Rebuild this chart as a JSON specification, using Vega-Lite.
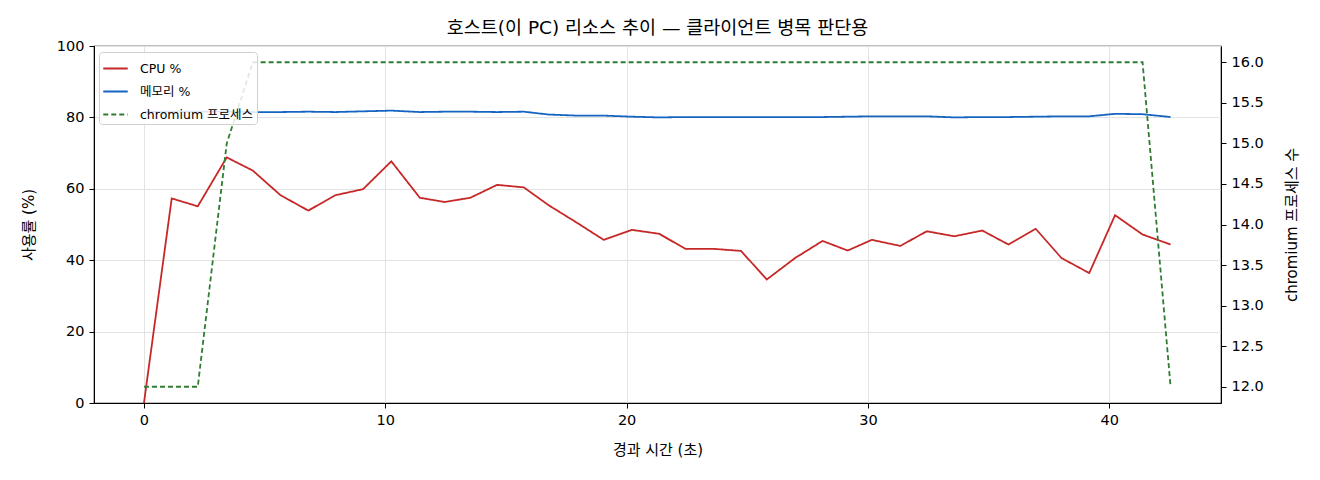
{
  "$schema": "https://vega.github.io/schema/vega-lite/v6.json",
  "width": 1127,
  "height": 357,
  "autosize": {"type": "none"},
  "padding": {"left": 94, "top": 46, "right": 99, "bottom": 77},
  "background": "white",
  "config": {
    "font": "DejaVu Sans, Noto Sans CJK KR",
    "view": {"stroke": "black", "strokeWidth": 1.2},
    "axis": {
      "domainColor": "black",
      "tickColor": "black",
      "tickSize": 5,
      "labelColor": "black",
      "labelFont": "DejaVu Sans, Noto Sans CJK KR",
      "labelFontSize": 14.5,
      "titleFont": "DejaVu Sans, Noto Sans CJK KR",
      "titleFontSize": 15,
      "titleFontWeight": "normal",
      "titleColor": "black",
      "gridColor": "#e3e3e3",
      "labelPadding": 5
    },
    "legend": {
      "orient": "none",
      "legendX": 5,
      "legendY": 6,
      "fillColor": "rgba(255,255,255,0.85)",
      "strokeColor": "#d0d0d0",
      "cornerRadius": 3,
      "padding": 3,
      "symbolType": "stroke",
      "symbolSize": 600,
      "symbolStrokeWidth": 2,
      "labelFont": "DejaVu Sans, Noto Sans CJK KR",
      "labelFontSize": 12.5,
      "labelColor": "black",
      "rowPadding": 3,
      "labelOffset": 11
    }
  },
  "title": {
    "text": "호스트(이 PC) 리소스 추이 — 클라이언트 병목 판단용",
    "font": "DejaVu Sans, Noto Sans CJK KR",
    "fontSize": 18.5,
    "fontWeight": "normal",
    "color": "black",
    "offset": 1
  },
  "data": {
    "values": [
      {"t": 0, "s": "CPU %", "v": 0},
      {"t": 1.15, "s": "CPU %", "v": 57.3},
      {"t": 2.23, "s": "CPU %", "v": 55.1},
      {"t": 3.43, "s": "CPU %", "v": 68.8},
      {"t": 4.51, "s": "CPU %", "v": 65.1},
      {"t": 5.66, "s": "CPU %", "v": 58.2},
      {"t": 6.81, "s": "CPU %", "v": 53.9},
      {"t": 7.93, "s": "CPU %", "v": 58.2},
      {"t": 9.08, "s": "CPU %", "v": 59.9},
      {"t": 10.25, "s": "CPU %", "v": 67.7},
      {"t": 11.43, "s": "CPU %", "v": 57.5},
      {"t": 12.46, "s": "CPU %", "v": 56.3},
      {"t": 13.53, "s": "CPU %", "v": 57.5},
      {"t": 14.63, "s": "CPU %", "v": 61.1},
      {"t": 15.74, "s": "CPU %", "v": 60.4},
      {"t": 16.77, "s": "CPU %", "v": 55.4},
      {"t": 17.94, "s": "CPU %", "v": 50.5},
      {"t": 19.05, "s": "CPU %", "v": 45.7},
      {"t": 20.22, "s": "CPU %", "v": 48.5},
      {"t": 21.35, "s": "CPU %", "v": 47.4},
      {"t": 22.43, "s": "CPU %", "v": 43.2},
      {"t": 23.56, "s": "CPU %", "v": 43.2},
      {"t": 24.74, "s": "CPU %", "v": 42.6},
      {"t": 25.81, "s": "CPU %", "v": 34.6},
      {"t": 26.98, "s": "CPU %", "v": 40.6},
      {"t": 28.12, "s": "CPU %", "v": 45.4},
      {"t": 29.16, "s": "CPU %", "v": 42.7},
      {"t": 30.16, "s": "CPU %", "v": 45.7},
      {"t": 31.34, "s": "CPU %", "v": 44.0},
      {"t": 32.44, "s": "CPU %", "v": 48.1},
      {"t": 33.58, "s": "CPU %", "v": 46.7},
      {"t": 34.74, "s": "CPU %", "v": 48.3},
      {"t": 35.82, "s": "CPU %", "v": 44.4},
      {"t": 36.95, "s": "CPU %", "v": 48.8},
      {"t": 38.02, "s": "CPU %", "v": 40.6},
      {"t": 39.17, "s": "CPU %", "v": 36.4},
      {"t": 40.24, "s": "CPU %", "v": 52.6},
      {"t": 41.38, "s": "CPU %", "v": 47.2},
      {"t": 42.54, "s": "CPU %", "v": 44.4},
      {"t": 0, "s": "메모리 %", "v": 81.5},
      {"t": 1.15, "s": "메모리 %", "v": 81.6},
      {"t": 2.23, "s": "메모리 %", "v": 81.6},
      {"t": 3.43, "s": "메모리 %", "v": 81.7},
      {"t": 4.51, "s": "메모리 %", "v": 81.5},
      {"t": 5.66, "s": "메모리 %", "v": 81.5},
      {"t": 6.81, "s": "메모리 %", "v": 81.6},
      {"t": 7.93, "s": "메모리 %", "v": 81.5},
      {"t": 9.08, "s": "메모리 %", "v": 81.7},
      {"t": 10.25, "s": "메모리 %", "v": 81.9},
      {"t": 11.43, "s": "메모리 %", "v": 81.5},
      {"t": 12.46, "s": "메모리 %", "v": 81.6},
      {"t": 13.53, "s": "메모리 %", "v": 81.6},
      {"t": 14.63, "s": "메모리 %", "v": 81.5},
      {"t": 15.74, "s": "메모리 %", "v": 81.6},
      {"t": 16.77, "s": "메모리 %", "v": 80.8},
      {"t": 17.94, "s": "메모리 %", "v": 80.5},
      {"t": 19.05, "s": "메모리 %", "v": 80.5},
      {"t": 20.22, "s": "메모리 %", "v": 80.2},
      {"t": 21.35, "s": "메모리 %", "v": 80.0},
      {"t": 22.43, "s": "메모리 %", "v": 80.1},
      {"t": 23.56, "s": "메모리 %", "v": 80.1},
      {"t": 24.74, "s": "메모리 %", "v": 80.1},
      {"t": 25.81, "s": "메모리 %", "v": 80.1},
      {"t": 26.98, "s": "메모리 %", "v": 80.1},
      {"t": 28.12, "s": "메모리 %", "v": 80.1},
      {"t": 29.16, "s": "메모리 %", "v": 80.2},
      {"t": 30.16, "s": "메모리 %", "v": 80.3},
      {"t": 31.34, "s": "메모리 %", "v": 80.3},
      {"t": 32.44, "s": "메모리 %", "v": 80.3},
      {"t": 33.58, "s": "메모리 %", "v": 80.0},
      {"t": 34.74, "s": "메모리 %", "v": 80.1},
      {"t": 35.82, "s": "메모리 %", "v": 80.1},
      {"t": 36.95, "s": "메모리 %", "v": 80.2},
      {"t": 38.02, "s": "메모리 %", "v": 80.3},
      {"t": 39.17, "s": "메모리 %", "v": 80.3},
      {"t": 40.24, "s": "메모리 %", "v": 81.0},
      {"t": 41.38, "s": "메모리 %", "v": 80.9},
      {"t": 42.54, "s": "메모리 %", "v": 80.1},
      {"t": 0, "s": "chromium 프로세스", "v": 12},
      {"t": 1.15, "s": "chromium 프로세스", "v": 12},
      {"t": 2.23, "s": "chromium 프로세스", "v": 12},
      {"t": 3.43, "s": "chromium 프로세스", "v": 15},
      {"t": 4.51, "s": "chromium 프로세스", "v": 16},
      {"t": 5.66, "s": "chromium 프로세스", "v": 16},
      {"t": 6.81, "s": "chromium 프로세스", "v": 16},
      {"t": 7.93, "s": "chromium 프로세스", "v": 16},
      {"t": 9.08, "s": "chromium 프로세스", "v": 16},
      {"t": 10.25, "s": "chromium 프로세스", "v": 16},
      {"t": 11.43, "s": "chromium 프로세스", "v": 16},
      {"t": 12.46, "s": "chromium 프로세스", "v": 16},
      {"t": 13.53, "s": "chromium 프로세스", "v": 16},
      {"t": 14.63, "s": "chromium 프로세스", "v": 16},
      {"t": 15.74, "s": "chromium 프로세스", "v": 16},
      {"t": 16.77, "s": "chromium 프로세스", "v": 16},
      {"t": 17.94, "s": "chromium 프로세스", "v": 16},
      {"t": 19.05, "s": "chromium 프로세스", "v": 16},
      {"t": 20.22, "s": "chromium 프로세스", "v": 16},
      {"t": 21.35, "s": "chromium 프로세스", "v": 16},
      {"t": 22.43, "s": "chromium 프로세스", "v": 16},
      {"t": 23.56, "s": "chromium 프로세스", "v": 16},
      {"t": 24.74, "s": "chromium 프로세스", "v": 16},
      {"t": 25.81, "s": "chromium 프로세스", "v": 16},
      {"t": 26.98, "s": "chromium 프로세스", "v": 16},
      {"t": 28.12, "s": "chromium 프로세스", "v": 16},
      {"t": 29.16, "s": "chromium 프로세스", "v": 16},
      {"t": 30.16, "s": "chromium 프로세스", "v": 16},
      {"t": 31.34, "s": "chromium 프로세스", "v": 16},
      {"t": 32.44, "s": "chromium 프로세스", "v": 16},
      {"t": 33.58, "s": "chromium 프로세스", "v": 16},
      {"t": 34.74, "s": "chromium 프로세스", "v": 16},
      {"t": 35.82, "s": "chromium 프로세스", "v": 16},
      {"t": 36.95, "s": "chromium 프로세스", "v": 16},
      {"t": 38.02, "s": "chromium 프로세스", "v": 16},
      {"t": 39.17, "s": "chromium 프로세스", "v": 16},
      {"t": 40.24, "s": "chromium 프로세스", "v": 16},
      {"t": 41.38, "s": "chromium 프로세스", "v": 16},
      {"t": 42.54, "s": "chromium 프로세스", "v": 12}
    ]
  },
  "layer": [
    {
      "transform": [{"filter": "datum.s !== 'chromium 프로세스'"}],
      "mark": {"type": "line", "strokeWidth": 1.8, "clip": true},
      "encoding": {
        "x": {
          "field": "t", "type": "quantitative",
          "scale": {"domain": [-2.07, 44.63], "nice": false, "zero": false},
          "axis": {"values": [0, 10, 20, 30, 40], "title": "경과 시간 (초)", "grid": true, "titlePadding": 16}
        },
        "y": {
          "field": "v", "type": "quantitative",
          "scale": {"domain": [0, 100], "nice": false},
          "axis": {"orient": "left", "values": [0, 20, 40, 60, 80, 100], "title": "사용률 (%)", "grid": true, "titlePadding": 20}
        },
        "color": {
          "field": "s", "type": "nominal",
          "scale": {"domain": ["CPU %", "메모리 %", "chromium 프로세스"], "range": ["#c62828", "#1565c0", "#2e7d32"]},
          "legend": {"title": null}
        },
        "strokeDash": {
          "field": "s", "type": "nominal",
          "scale": {"domain": ["CPU %", "메모리 %", "chromium 프로세스"], "range": [[1, 0], [1, 0], [5, 3]]},
          "legend": {"title": null}
        },
        "order": {"field": "t", "type": "quantitative"}
      }
    },
    {
      "transform": [{"filter": "datum.s === 'chromium 프로세스'"}],
      "mark": {"type": "line", "strokeWidth": 1.8, "clip": true},
      "encoding": {
        "x": {"field": "t", "type": "quantitative"},
        "y": {
          "field": "v", "type": "quantitative",
          "scale": {"domain": [11.8, 16.2], "nice": false, "zero": false},
          "axis": {"orient": "right", "values": [12, 12.5, 13, 13.5, 14, 14.5, 15, 15.5, 16], "format": ".1f", "title": "chromium 프로세스 수", "grid": false, "titleAngle": 270, "titlePadding": 36}
        },
        "color": {"field": "s", "type": "nominal", "legend": {"title": null}},
        "strokeDash": {"field": "s", "type": "nominal", "legend": {"title": null}},
        "order": {"field": "t", "type": "quantitative"}
      }
    }
  ],
  "resolve": {"scale": {"y": "independent"}, "axis": {"y": "independent"}}
}
